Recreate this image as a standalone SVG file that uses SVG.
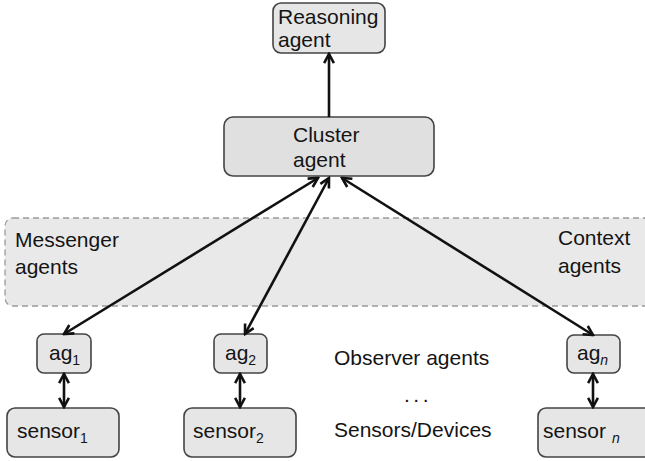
<svg xmlns="http://www.w3.org/2000/svg" width="645" height="461" viewBox="0 0 645 461">
  <style>
    .box { fill: #e6e6e6; stroke: #444; stroke-width: 1.6; }
    .lbl { font-family: "Liberation Sans", Arial, sans-serif; font-size: 21px; fill: #141414; }
    .sub { font-size: 14px; }
    .con { stroke: #111; stroke-width: 2.6; fill: none; }
  </style>
  <defs>
    <marker id="head" viewBox="0 0 12 12" refX="10.5" refY="6" markerWidth="13" markerHeight="13" markerUnits="userSpaceOnUse" orient="auto-start-reverse">
      <path d="M2,1.5 L10.5,6 L2,10.5" fill="none" stroke="#111" stroke-width="2.4" stroke-linejoin="miter"/>
    </marker>
  </defs>

  <rect width="645" height="461" fill="#fff"/>

  <!-- band of messenger / context agents -->
  <g id="band">
    <rect x="5" y="218" width="660" height="88" rx="8" fill="#e9e9e9" stroke="#9a9a9a" stroke-width="1.3" stroke-dasharray="6 4"/>
    <text class="lbl" x="15" y="247">Messenger</text>
    <text class="lbl" x="15" y="274">agents</text>
    <text class="lbl" x="558" y="245">Context</text>
    <text class="lbl" x="558" y="273">agents</text>
  </g>

  <g id="reasoning">
    <rect class="box" x="273" y="3" width="112" height="50" rx="8"/>
    <text class="lbl" x="278" y="24">Reasoning</text>
    <text class="lbl" x="278" y="47">agent</text>
  </g>

  <g id="cluster">
    <rect class="box" x="224" y="117" width="210" height="59" rx="9" style="fill:#e0e0e0"/>
    <text class="lbl" x="293" y="142">Cluster</text>
    <text class="lbl" x="293" y="167">agent</text>
  </g>

  <g id="ag1">
    <rect class="box" x="37" y="334" width="54" height="39" rx="7"/>
    <text class="lbl" x="49" y="360">ag<tspan class="sub" dy="5">1</tspan></text>
  </g>
  <g id="ag2">
    <rect class="box" x="214" y="334" width="53" height="39" rx="7"/>
    <text class="lbl" x="225" y="360">ag<tspan class="sub" dy="5">2</tspan></text>
  </g>
  <g id="agn">
    <rect class="box" x="567" y="335" width="53" height="38" rx="7"/>
    <text class="lbl" x="577" y="360">ag<tspan class="sub" dy="5" font-style="italic">n</tspan></text>
  </g>

  <g id="sensor1">
    <rect class="box" x="7" y="408" width="112" height="49" rx="8"/>
    <text class="lbl" x="17" y="438">sensor<tspan class="sub" dy="5">1</tspan></text>
  </g>
  <g id="sensor2">
    <rect class="box" x="184" y="408" width="112" height="49" rx="8"/>
    <text class="lbl" x="193" y="438">sensor<tspan class="sub" dy="5">2</tspan></text>
  </g>
  <g id="sensorn">
    <rect class="box" x="538" y="408" width="120" height="49" rx="8"/>
    <text class="lbl" x="543" y="438">sensor <tspan class="sub" dy="5" font-style="italic">n</tspan></text>
  </g>

  <g id="legend">
    <text class="lbl" x="334" y="365">Observer agents</text>
    <text class="lbl" x="404" y="402" letter-spacing="3.5">...</text>
    <text class="lbl" x="334" y="437">Sensors/Devices</text>
  </g>

  <g id="connectors">
    <line class="con" x1="329" y1="117" x2="329" y2="54" marker-end="url(#head)"/>
    <line class="con" x1="64" y1="334" x2="318" y2="178" marker-start="url(#head)" marker-end="url(#head)"/>
    <line class="con" x1="245" y1="334" x2="329" y2="178" marker-start="url(#head)" marker-end="url(#head)"/>
    <line class="con" x1="593" y1="335" x2="342" y2="178" marker-start="url(#head)" marker-end="url(#head)"/>
    <line class="con" x1="64" y1="374" x2="64" y2="407" marker-start="url(#head)" marker-end="url(#head)"/>
    <line class="con" x1="240" y1="374" x2="240" y2="407" marker-start="url(#head)" marker-end="url(#head)"/>
    <line class="con" x1="593" y1="374" x2="593" y2="407" marker-start="url(#head)" marker-end="url(#head)"/>
  </g>
</svg>
